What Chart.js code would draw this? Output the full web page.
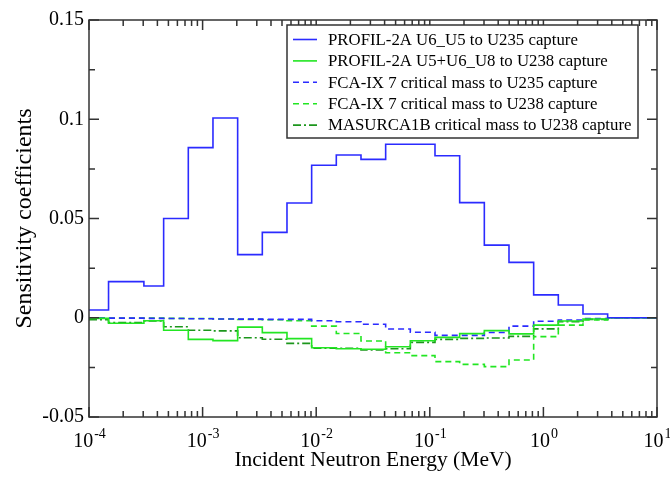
<!DOCTYPE html>
<html lang="en">
<head>
    <meta charset="UTF-8">
    <title>Sensitivity coefficients</title>
    <script src="https://cdn.jsdelivr.net/npm/chart.js"></script>
    <style>
        body { margin: 0; background: #fff; }
        canvas { display: block; }
    </style>
</head>
<body>
    <canvas id="sensChart" width="670" height="477"></canvas>

    <script>
        // ECCO 33-group boundaries (MeV) inside the plotted range
        const groupEdges = [1e-4, 1.486e-4, 3.043e-4, 4.540e-4, 7.485e-4, 1.234e-3, 2.035e-3,
            3.355e-3, 5.531e-3, 9.119e-3, 1.503e-2, 2.479e-2, 4.087e-2, 6.738e-2, 0.1111,
            0.1832, 0.3020, 0.4979, 0.8208, 1.353, 2.231, 3.679, 6.065, 10];

        // one value per group, low energy first
        const profilU6U5 = [0.0039, 0.0182, 0.016, 0.05, 0.0857, 0.1006, 0.0318, 0.043, 0.0578,
            0.0768, 0.082, 0.0798, 0.0874, 0.0874, 0.0816, 0.058, 0.0366, 0.0279, 0.0115,
            0.0064, 0.0019, 0, 0];
        const profilU5U6U8 = [-0.0003, -0.0028, -0.0015, -0.0063, -0.0109, -0.0115, -0.0047,
            -0.0075, -0.0105, -0.0151, -0.0156, -0.0159, -0.0146, -0.0116, -0.0099, -0.008,
            -0.0065, -0.0081, -0.0037, -0.0016, -0.0006, 0, 0];
        const fcaU235 = [-0.0002, -0.0002, -0.0003, -0.0004, -0.0005, -0.0006, -0.0007, -0.0008,
            -0.0008, -0.0015, -0.002, -0.0033, -0.0057, -0.0073, -0.0089, -0.0089, -0.0074,
            -0.0042, -0.0018, -0.0011, -0.0004, 0, 0];
        const fcaU238 = [-0.0001, -0.0002, -0.0002, -0.0003, -0.0004, -0.0006, -0.0008, -0.001,
            -0.0015, -0.0042, -0.0079, -0.0117, -0.0176, -0.0191, -0.0221, -0.0235, -0.0246,
            -0.0213, -0.0095, -0.0037, -0.0011, 0, 0];
        const masurcaU238 = [-0.001, -0.0024, -0.0016, -0.0045, -0.0063, -0.0066, -0.0101,
            -0.0108, -0.0129, -0.0153, -0.0154, -0.0162, -0.0156, -0.0124, -0.0109, -0.0104,
            -0.0102, -0.0094, -0.0056, -0.002, -0.0008, 0, 0];

        const seriesLabels = [
            'PROFIL-2A U6_U5 to U235 capture',
            'PROFIL-2A U5+U6_U8 to U238 capture',
            'FCA-IX 7 critical mass to U235 capture',
            'FCA-IX 7 critical mass to U238 capture',
            'MASURCA1B critical mass to U238 capture'
        ];
        const decadeTicks = [1e-4, 1e-3, 1e-2, 1e-1, 1, 10];
        const yTicks = [-0.05, 0, 0.05, 0.1, 0.15];

        const SERIF = "'Liberation Serif', 'Times New Roman', serif";
        const BLUE = '#2b2bff';
        const GREEN = '#22e622';
        const DARK_GREEN = '#1c961c';

        // histogram: each edge holds the value of the group that starts there,
        // the top edge repeats the last group
        function steps(values) {
            return groupEdges.map((e, i) => ({ x: e, y: values[Math.min(i, values.length - 1)] }));
        }

        function series(label, values, color, dash) {
            return {
                label: label,
                data: steps(values),
                borderColor: color,
                borderWidth: 1.6,
                borderDash: dash,
                stepped: 'before',
                pointRadius: 0,
                fill: false
            };
        }

        // frame, inward ticks on all sides, 10^n labels and boxed legend
        const frameAndLegend = {
            id: 'frameAndLegend',
            afterDraw(chart) {
                const ctx = chart.ctx;
                const a = chart.chartArea;
                const xs = chart.scales.x, ys = chart.scales.y;
                ctx.save();
                ctx.strokeStyle = '#333';
                ctx.lineWidth = 1.5;
                ctx.strokeRect(a.left, a.top, a.right - a.left, a.bottom - a.top);

                ctx.beginPath();
                decadeTicks.forEach(d => {
                    for (let m = 1; m <= 9; m++) {
                        const v = d * m;
                        if (v > 10) break;
                        const px = xs.getPixelForValue(v);
                        const len = m === 1 ? 10 : 6;
                        ctx.moveTo(px, a.bottom); ctx.lineTo(px, a.bottom - len);
                        ctx.moveTo(px, a.top); ctx.lineTo(px, a.top + len);
                    }
                });
                for (let i = 0; i <= 8; i++) {
                    const v = -0.05 + i * 0.025;
                    const py = ys.getPixelForValue(v);
                    const len = i % 2 === 0 ? 10 : 6;
                    ctx.moveTo(a.left, py); ctx.lineTo(a.left + len, py);
                    ctx.moveTo(a.right, py); ctx.lineTo(a.right - len, py);
                }
                ctx.stroke();

                // x tick labels as 10 with a raised exponent
                ctx.fillStyle = '#000';
                ctx.textBaseline = 'alphabetic';
                ctx.textAlign = 'left';
                decadeTicks.forEach(d => {
                    const px = xs.getPixelForValue(d);
                    const exp = String(Math.round(Math.log10(d)));
                    ctx.font = '20px ' + SERIF;
                    const wBase = ctx.measureText('10').width;
                    ctx.font = '14px ' + SERIF;
                    const wExp = ctx.measureText(exp).width;
                    const x0 = px - (wBase + wExp) / 2;
                    ctx.font = '20px ' + SERIF;
                    ctx.fillText('10', x0, a.bottom + 30);
                    ctx.font = '14px ' + SERIF;
                    ctx.fillText(exp, x0 + wBase + 1, a.bottom + 21);
                });

                // legend box
                const box = { left: 287, top: 25, right: 638, bottom: 138 };
                ctx.fillStyle = '#fff';
                ctx.fillRect(box.left, box.top, box.right - box.left, box.bottom - box.top);
                ctx.strokeStyle = '#333';
                ctx.lineWidth = 1.5;
                ctx.setLineDash([]);
                ctx.strokeRect(box.left, box.top, box.right - box.left, box.bottom - box.top);
                ctx.font = '16.8px ' + SERIF;
                ctx.textBaseline = 'middle';
                chart.data.datasets.forEach((ds, i) => {
                    const y = box.top + 14.5 + i * 21.4;
                    ctx.strokeStyle = ds.borderColor;
                    ctx.lineWidth = ds.borderWidth;
                    ctx.setLineDash(ds.borderDash || []);
                    ctx.beginPath();
                    ctx.moveTo(box.left + 6, y);
                    ctx.lineTo(box.left + 30, y);
                    ctx.stroke();
                    ctx.setLineDash([]);
                    ctx.fillStyle = '#000';
                    ctx.fillText(ds.label, box.left + 41, y + 1);
                });
                ctx.restore();
            }
        };

        const ctx = document.getElementById('sensChart').getContext('2d');
        new Chart(ctx, {
            type: 'line',
            data: {
                datasets: [
                    series(seriesLabels[0], profilU6U5, BLUE, []),
                    series(seriesLabels[1], profilU5U6U8, GREEN, []),
                    series(seriesLabels[2], fcaU235, BLUE, [6, 4]),
                    series(seriesLabels[3], fcaU238, GREEN, [6, 4]),
                    series(seriesLabels[4], masurcaU238, DARK_GREEN, [8, 3, 2, 3])
                ]
            },
            options: {
                responsive: false,
                devicePixelRatio: 1,
                animation: false,
                layout: { padding: { left: 0, right: 13, top: 20, bottom: 0 } },
                plugins: {
                    legend: { display: false },
                    tooltip: { enabled: false }
                },
                scales: {
                    x: {
                        type: 'logarithmic',
                        min: 1e-4,
                        max: 10,
                        grid: { display: false, drawTicks: false },
                        border: { display: false },
                        ticks: { display: false },
                        title: {
                            display: true,
                            text: 'Incident Neutron Energy (MeV)',
                            color: '#000',
                            font: { family: SERIF, size: 21.5 },
                            padding: { top: 0, bottom: 4 }
                        },
                        afterFit: s => { s.height = 60; }
                    },
                    y: {
                        min: -0.05,
                        max: 0.15,
                        grid: { display: false, drawTicks: false },
                        border: { display: false },
                        afterBuildTicks: s => { s.ticks = yTicks.map(v => ({ value: v })); },
                        ticks: {
                            color: '#000',
                            padding: 5,
                            font: { family: SERIF, size: 20 },
                            callback: v => String(Math.round(v * 100) / 100)
                        },
                        title: {
                            display: true,
                            text: 'Sensitivity coefficients',
                            color: '#000',
                            font: { family: SERIF, size: 24 },
                            padding: { top: 10, bottom: 0 }
                        },
                        afterFit: s => { s.width = 89; }
                    }
                }
            },
            plugins: [frameAndLegend]
        });
    </script>
</body>
</html>
